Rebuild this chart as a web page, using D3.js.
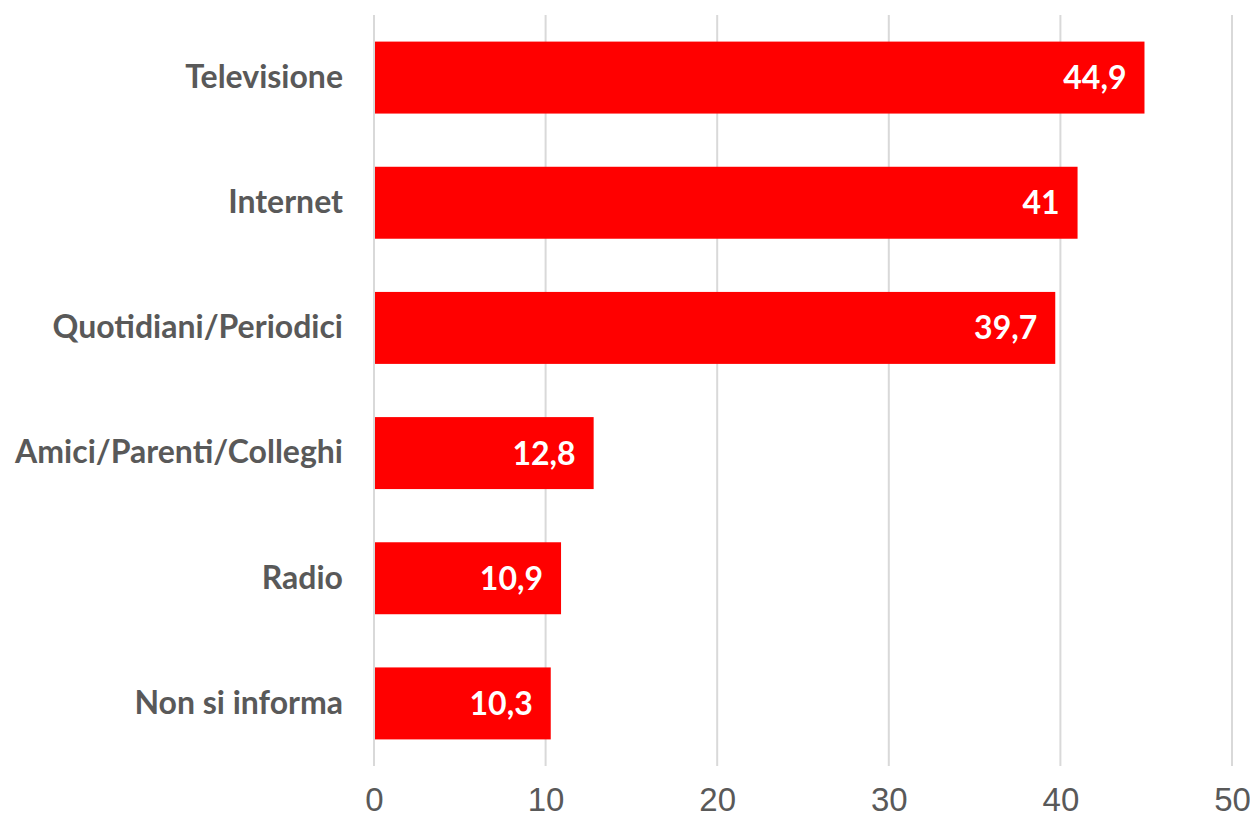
<!DOCTYPE html>
<html>
<head>
<meta charset="utf-8">
<script src="https://cdn.jsdelivr.net/npm/d3@7"></script>
<style>
  html, body { margin: 0; padding: 0; background: #fff; }
</style>
</head>
<body>
<svg id="chart"></svg>
<script>
const categories = ['Televisione', 'Internet', 'Quotidiani/Periodici', 'Amici/Parenti/Colleghi', 'Radio', 'Non si informa']
const values = [44.9, 41, 39.7, 12.8, 10.9, 10.3]
const valueLabels = ['44,9', '41', '39,7', '12,8', '10,9', '10,3']
const xTicks = [0, 10, 20, 30, 40, 50]

const width = 1250
const height = 817
const margin = {top: 15, right: 18, bottom: 51, left: 374}

const svg = d3.select('#chart')
  .attr('width', width)
  .attr('height', height)

const x = d3.scaleLinear()
  .domain([0, 50])
  .range([margin.left, width - margin.right])

const y = d3.scaleBand()
  .domain(categories)
  .range([margin.top, height - margin.bottom])
  .paddingInner(0.425)
  .paddingOuter(0.2125)

// gridlines
svg.append('g')
  .selectAll('line')
  .data(xTicks)
  .join('line')
    .attr('x1', d => x(d))
    .attr('x2', d => x(d))
    .attr('y1', margin.top)
    .attr('y2', height - margin.bottom)
    .attr('stroke', '#d9d9d9')
    .attr('stroke-width', 2)

// bars
svg.append('g')
  .selectAll('rect')
  .data(values)
  .join('rect')
    .attr('x', x(0) + 1)
    .attr('y', (d, i) => y(categories[i]))
    .attr('width', d => x(d) - x(0) - 1)
    .attr('height', y.bandwidth())
    .attr('fill', '#ff0000')

// value labels
svg.append('g')
  .selectAll('text')
  .data(values)
  .join('text')
    .attr('x', d => x(d) - 18)
    .attr('y', (d, i) => y(categories[i]) + y.bandwidth() / 2)
    .attr('dy', '0.36em')
    .attr('text-anchor', 'end')
    .attr('fill', '#fff')
    .style('font-family', 'Lato, sans-serif')
    .style('font-weight', 'bold')
    .style('font-size', '32px')
    .text((d, i) => valueLabels[i])

// category axis
const yAxis = d3.axisLeft(y).tickSize(0).tickPadding(31)
const gy = svg.append('g')
  .attr('transform', `translate(${x(0)},0)`)
  .call(yAxis)
gy.select('.domain').remove()
gy.selectAll('text')
  .attr('fill', '#595959')
  .style('font-family', 'Lato, sans-serif')
  .style('font-weight', 'bold')
  .style('font-size', '32px')

// value axis
const xAxis = d3.axisBottom(x).tickValues(xTicks).tickSize(0).tickPadding(22)
const gx = svg.append('g')
  .attr('transform', `translate(0,${height - margin.bottom})`)
  .call(xAxis)
gx.select('.domain').remove()
gx.selectAll('text')
  .attr('fill', '#595959')
  .style('font-family', 'Liberation Sans, Arial, sans-serif')
  .style('font-size', '33px')
</script>
</body>
</html>
